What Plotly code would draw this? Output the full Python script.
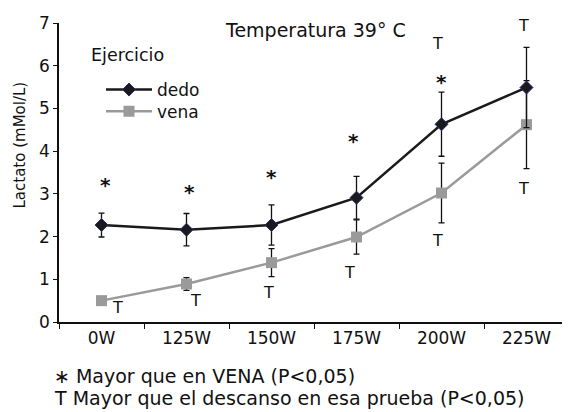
import plotly.graph_objects as go

categories = ["0W", "125W", "150W", "175W", "200W", "225W"]
dedo = [2.27, 2.16, 2.27, 2.91, 4.63, 5.49]
dedo_err = [0.28, 0.38, 0.47, 0.50, 0.75, 0.94]
vena = [0.50, 0.89, 1.39, 1.99, 3.02, 4.62]
vena_err = [0.03, 0.15, 0.33, 0.40, 0.70, 1.03]

# significance markers (x in category index units, y in mMol/L)
star_x = [0.05, 1.04, 2.0, 2.97, 4.0]
star_y = [3.28, 3.11, 3.46, 4.30, 5.69]
t_x = [0.19, 1.10, 1.96, 2.92, 3.95, 3.95, 4.97, 4.97]
t_y = [0.33, 0.51, 0.70, 1.17, 1.91, 6.53, 6.95, 3.13]

FONT = "DejaVu Sans"
# page body has an 8px margin; figure occupies x 8..570, y 8..412
W, H = 562, 404
L, R, T, B = 51, 1, 15, 90
PW, PH = W - L - R, H - T - B


def px(xp):  # page x -> paper fraction
    return (xp - 8 - L) / PW


def py(yp):  # page y -> paper fraction
    return 1 - (yp - 8 - T) / PH


fig = go.Figure()
fig.add_trace(go.Scatter(
    x=list(range(len(categories))), y=vena, name="vena", mode="lines+markers",
    line=dict(color="#9a9a9a", width=2.5),
    marker=dict(symbol="square", size=11, color="#9a9a9a"),
    error_y=dict(type="data", array=vena_err, color="#111111", thickness=1.3, width=3),
    legend="legend2",
))
fig.add_trace(go.Scatter(
    x=list(range(len(categories))), y=dedo, name="dedo", mode="lines+markers",
    line=dict(color="#1a1a1a", width=2.5),
    marker=dict(symbol="diamond", size=10, color="#1a1a1a", line=dict(color="#2b2b7a", width=1)),
    error_y=dict(type="data", array=dedo_err, color="#111111", thickness=1.3, width=3),
    legend="legend",
))

for x, y in zip(star_x, star_y):
    fig.add_annotation(x=x, y=y, xref="x", yref="y", text="<b>*</b>", showarrow=False,
                       font=dict(family=FONT, size=20, color="#111"), yshift=-3)
for x, y in zip(t_x, t_y):
    fig.add_annotation(x=x, y=y, xref="x", yref="y", text="T", showarrow=False,
                       font=dict(family=FONT, size=16, color="#111"))


def note(xp, yp, text, size, anchor="left", angle=0):
    fig.add_annotation(x=px(xp), y=py(yp), xref="paper", yref="paper",
                       xanchor=anchor, yanchor="middle", text=text, textangle=angle,
                       showarrow=False, font=dict(family=FONT, size=size, color="#111"))


note(315, 30, "Temperatura 39° C", 19, anchor="center")
note(89, 55, "Ejercicio", 17.5)
note(19, 145.5, "Lactato (mMol/L)", 15, anchor="center", angle=-90)
note(52, 376, "∗ Mayor que en VENA (P<0,05)", 19)
note(52, 398, "T Mayor que el descanso en esa prueba (P<0,05)", 19)

leg_common = dict(xanchor="left", yanchor="top", bgcolor="rgba(0,0,0,0)",
                  font=dict(family=FONT, size=17), itemwidth=46)
fig.update_layout(
    width=W, height=H,
    margin=dict(l=L, r=R, t=T, b=B),
    plot_bgcolor="white", paper_bgcolor="white",
    font=dict(family=FONT, size=16, color="#111"),
    showlegend=True,
    legend=dict(x=px(101), y=py(72), **leg_common),
    legend2=dict(x=px(101), y=py(93.7), **leg_common),
    xaxis=dict(
        range=[-0.5, 5.5], tickmode="array", tickvals=list(range(len(categories))),
        ticktext=categories, ticks="", showline=True, linecolor="#111", linewidth=1.5,
        showgrid=False, zeroline=False,
        minor=dict(tickmode="array", tickvals=[i - 0.5 for i in range(len(categories) + 1)],
                   ticks="outside", ticklen=5, tickcolor="#111", showgrid=False),
        tickfont=dict(family=FONT, size=17),
    ),
    yaxis=dict(
        range=[0, 7], dtick=1, ticks="outside", ticklen=4, tickcolor="#111",
        showline=True, linecolor="#111", linewidth=1.5, showgrid=False, zeroline=False,
        tickfont=dict(family=FONT, size=17),
    ),
)

fig.write_html("out.html")
